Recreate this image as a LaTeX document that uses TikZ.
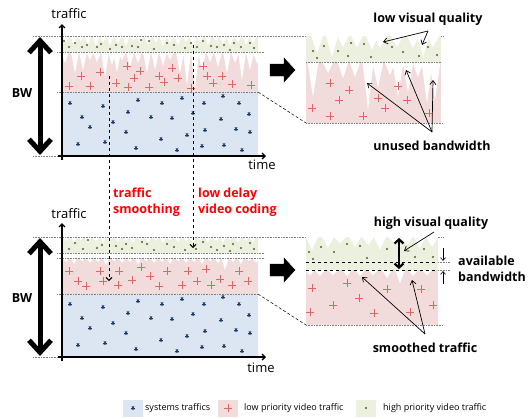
\documentclass[tikz,border=0pt]{standalone}
\usepackage{fontspec}
\setmainfont{Open Sans}
\usetikzlibrary{arrows.meta}
\definecolor{gfill}{HTML}{EBF1DE}
\definecolor{rfill}{HTML}{F2DCDB}
\definecolor{bfill}{HTML}{DCE6F2}
\definecolor{gdot}{HTML}{4F6228}
\definecolor{rplus}{HTML}{E06666}
\definecolor{bstar}{HTML}{1F3864}
\definecolor{redtxt}{HTML}{FF0000}
\newcommand\mkspikes[3]{\foreach \sx/\sd in {#3}{\fill[white] (\sx-#2,#1) -- (\sx,#1+\sd) -- (\sx+#2,#1) -- cycle;}}
\tikzset{
  guide/.style={gray, densely dotted, line width=0.6pt},
  blackdash/.style={black, dashed, line width=0.7pt},
  starm/.pic={\foreach \a in {0,60,120}{\draw[bstar,line width=0.8pt] (\a:2.1) -- (\a+180:2.1);}},
  plusm/.pic={\draw[rplus,line width=0.7pt] (-4,0) -- (4,0) (0,-4) -- (0,4);},
  dotm/.pic={\fill[gdot] (0,0) circle (1.2pt);},
  axis/.style={line width=1.4pt, -{Straight Barb[length=3pt,width=6pt]}},
  bwarrow/.style={line width=5pt, {Straight Barb[length=12pt,width=22pt]}-{Straight Barb[length=12pt,width=22pt]}},
  note/.style={line width=0.7pt, -{Straight Barb[length=4pt,width=6pt]}},
  blockarrow/.style={fill=black},
  lbl/.style={font=\fontsize{12.5}{14}\selectfont\bfseries, inner sep=0pt},
  axlbl/.style={font=\fontsize{13}{15}\selectfont, inner sep=0pt},
  redlbl/.style={font=\fontsize{12.5}{16}\selectfont\bfseries, text=redtxt, inner sep=0pt, align=left, anchor=north west},
  leg/.style={font=\fontsize{9}{10}\selectfont, inner sep=0pt, anchor=west},
  legbox/.style={minimum width=20pt, minimum height=17pt, inner sep=0pt}
}
\begin{document}
\begin{tikzpicture}[x=1pt,y=-1pt]
\useasboundingbox (0,0) rectangle (532,418);
\fill[white] (0,0) rectangle (532,418);

% ================= TOP LEFT PANEL =================
\fill[gfill] (62,36) rectangle (258,52);
\fill[rfill] (62,52) rectangle (258,92);
\fill[bfill] (62,92) rectangle (258,156);
\begin{scope}
\clip (62,36) rectangle (258,92);
\mkspikes{36}{4}{66/6,74/9,81/5,88/8,96/10,103/6,110/9,118/7,126/10,133/5,140/8,148/9,156/6,163/10,170/7,178/9,186/6,193/10,200/7,208/9,216/5,223/8,230/10,238/6,246/9,253/7}
\mkspikes{52}{4}{65/11,75/21,83/18,90/8,97/10,105/25,112/13,117/20,122/8,130/15,138/11,147/21,155/18,163/14,170/8,180/21,187/33,195/38,202/18,210/10,218/15,227/21,235/11,242/28,250/18,257/12}
\end{scope}
\foreach \x/\y in {70/103,103/106,138/100,162/103,182/98,204/103,223/96,239/103,82/117,128/112,151/117,172/118,193/113,221/119,249/114,90/127,113/122,126/132,187/135,205/130,236/129,250/132,78/144,105/142,136/148,161/139,177/150,202/146,224/145,242/150}
  {\pic at (\x,\y) {starm};}
\foreach \x/\y in {69/86,81/76,90/86,100/72,116/83,127/66,128/87,134/78,140/71,149/87,159/76,164/82,172/68,178/78,191/88,203/66,207/76,213/83,222/76,232/84,251/85}
  {\pic at (\x,\y) {plusm};}
\foreach \x/\y in {64/41,69/47,75/43,82/47,87/45,97/47,101/44,110/49,116/45,122/47,132/46,138/47,141/40,149/41,154/49,167/43,174/45,185/48,191/43,197/47,203/41,211/46,217/47,224/45,230/50,234/43,241/47,250/43,254/48}
  {\pic at (\x,\y) {dotm};}

\draw[guide] (33,36) -- (443,36);
\draw[guide] (57,52) -- (265,52);
\draw[guide] (57,92) -- (258,92);
\draw[guide] (33,156) -- (62,156);

\coordinate (ta0) at (62,160);
\coordinate (ta1) at (62,24);
\coordinate (tb0) at (58,156);
\coordinate (tb1) at (266,156);
\draw[axis] (ta0) -- (ta1);
\draw[axis] (tb0) -- (tb1);
\node[axlbl] (ttraffic) at (69,14) {traffic};
\node[axlbl] (ttime) at (262,165) {time};

\coordinate (bwt0) at (40,37);
\coordinate (bwt1) at (40,155);
\draw[bwarrow] (bwt0) -- (bwt1);
\node[lbl] (tbw) at (22,93) {BW};

% ================= TOP RIGHT PANEL =================
\fill[gfill] (306,36) rectangle (441,62);
\fill[rfill] (306,62) rectangle (441,123);
\begin{scope}
\clip (306,36) rectangle (441,123);
\mkspikes{36}{6}{317/17,332/21,343/11,357/11,372/14,380/12,397/11,413/12,423/21,433/11}
\mkspikes{62}{5.5}{313/35,328/11,343/16,355/15,368/48,378/26,390/13,398/35,408/30,418/15,427/41,435/38}
\end{scope}
\foreach \x/\y in {313/51,317/58,324/46,338/51,348/56,351/43,364/44,371/57,392/47,403/52,419/56,428/47,437/55}
  {\pic at (\x,\y) {dotm};}
\foreach \x/\y in {312/108,330/83,330/116,339/100,349/90,363/116,378/98,385/108,398/86,407/100,429/113}
  {\pic at (\x,\y) {plusm};}
\draw[guide] (306,62) -- (441,62);
\draw[guide] (306,123) -- (443,123);
\coordinate (tz0) at (258,92);
\coordinate (tz1) at (306,123);
\draw[black, densely dashed, line width=0.5pt] (tz0) -- (tz1);

\draw[blockarrow] (270,64) -- (284,64) -- (284,58) -- (295,70) -- (284,82) -- (284,76) -- (270,76) -- cycle;

\node[lbl] (lvq) at (428,19) {low visual quality};
\coordinate (lvqo) at (428,31);
\coordinate (lvq1) at (383,42);
\coordinate (lvq2) at (422,45);
\draw[note] (lvqo) -- (lvq1);
\draw[note] (lvqo) -- (lvq2);

\node[lbl] (ubw) at (432,146) {unused bandwidth};
\coordinate (ubwo) at (432,132);
\coordinate (ubw1) at (367,83);
\coordinate (ubw2) at (406,70);
\coordinate (ubw3) at (433,80);
\draw[note] (ubwo) -- (ubw1);
\draw[note] (ubwo) -- (ubw2);
\draw[note] (ubwo) -- (ubw3);

% ================= BOTTOM LEFT PANEL =================
\fill[gfill] (62,237) rectangle (258,253);
\fill[rfill] (62,258) rectangle (258,294);
\fill[bfill] (62,294) rectangle (258,357);
\begin{scope}
\clip (62,237) rectangle (258,294);
\mkspikes{237}{3.5}{66/4,74/5,81/3,88/5,96/4,103/6,110/3,118/5,126/4,133/6,140/3,148/5,156/4,163/6,170/3,178/5,186/4,193/6,200/3,208/5,216/4,223/6,230/3,238/5,246/4,253/5}
\mkspikes{258}{3.5}{66/4,74/6,82/3,90/5,98/4,106/7,114/3,122/5,130/4,138/6,146/3,154/5,162/4,170/6,178/3,186/5,194/4,202/6,210/3,218/5,225/12,233/4,241/6,249/3,256/5}
\end{scope}
\foreach \x/\y in {70/103,103/106,138/100,162/103,182/98,204/103,223/96,239/103,82/117,128/112,151/117,172/118,193/113,221/119,249/114,90/127,113/122,126/132,187/135,205/130,236/129,250/132,78/144,105/142,136/148,161/139,177/150,202/146,224/145,242/150}
  {\pic at (\x,\y+201) {starm};}
\foreach \x/\y in {69/271,100/271,119/271,141/267,167/271,188/271,206/269,239/271,78/281,86/286,103/281,118/285,132/280,150/276,159/286,182/285,197/281,211/285,220/279,232/285,248/281}
  {\pic at (\x,\y) {plusm};}
\foreach \x/\y in {62/239,69/249,75/243,83/249,88/240,97/248,102/245,116/246,122/249,126/244,132/248,142/242,147/244,154/250,167/244,174/247,185/250,196/249,203/242,211/247,217/250,224/246,230/251,233/244,241/248,250/243,254/249}
  {\pic at (\x,\y) {dotm};}

\draw[guide] (33,237) -- (443,237);
\draw[guide] (57,253) -- (265,253);
\draw[guide] (57,258) -- (265,258);
\draw[guide] (57,294) -- (258,294);
\draw[guide] (33,357) -- (62,357);

\coordinate (ba0) at (62,361);
\coordinate (ba1) at (62,223);
\coordinate (bb0) at (58,357);
\coordinate (bb1) at (266,357);
\draw[axis] (ba0) -- (ba1);
\draw[axis] (bb0) -- (bb1);
\node[axlbl] (btraffic) at (69,214) {traffic};
\node[axlbl] (btime) at (261,368) {time};

\coordinate (bwb0) at (40,238);
\coordinate (bwb1) at (40,356);
\draw[bwarrow] (bwb0) -- (bwb1);
\node[lbl] (bbw) at (22,298) {BW};

% ================= BOTTOM RIGHT PANEL =================
\fill[gfill] (306,237) rectangle (438,270);
\fill[rfill] (306,270) rectangle (438,325);
\begin{scope}
\clip (306,237) rectangle (438,325);
\mkspikes{237}{6}{312/13,328/11,340/6,355/10,368/8,380/13,394/6,407/8,420/11,432/10}
\mkspikes{270}{5}{310/5,320/6,333/5,347/6,360/6,373/5,387/8,400/13,413/6,427/5}
\end{scope}
\foreach \x/\y in {309/252,321/247,313/259,334/252,347/244,360/246,367/258,387/249,415/257,424/249,433/257}
  {\pic at (\x,\y) {dotm};}
\foreach \x/\y in {312/288,310/312,333/305,347/283,359/298,374/313,387/289,410/312,421/289,433/305}
  {\pic at (\x,\y) {plusm};}
\draw[blackdash] (306,262) -- (438,262);
\draw[blackdash] (306,270) -- (438,270);
\draw[guide] (438,262) -- (450,262);
\draw[guide] (438,270) -- (450,270);
\draw[guide] (306,325) -- (443,325);
\coordinate (bz0) at (258,294);
\coordinate (bz1) at (306,325);
\draw[black, densely dashed, line width=0.5pt] (bz0) -- (bz1);

\draw[blockarrow] (270,264) -- (284,264) -- (284,258) -- (295,270) -- (284,282) -- (284,276) -- (270,276) -- cycle;

\coordinate (hq0) at (399,238);
\coordinate (hq1) at (399,269);
\draw[line width=2.2pt, {Straight Barb[length=4pt,width=9pt]}-{Straight Barb[length=4pt,width=9pt]}] (hq0) -- (hq1);

\node[lbl] (hvq) at (431,223) {high visual quality};
\coordinate (hvqo) at (434,232);
\coordinate (hvq1) at (404,251);
\draw[note] (hvqo) -- (hvq1);

\coordinate (av0) at (443,248);
\coordinate (av1) at (443,261);
\coordinate (av2) at (443,284);
\coordinate (av3) at (443,271);
\draw[line width=0.6pt, -{Straight Barb[length=3pt,width=5pt]}] (av0) -- (av1);
\draw[line width=0.6pt, -{Straight Barb[length=3pt,width=5pt]}] (av2) -- (av3);
\node[lbl, anchor=west] (avail) at (458,261) {available};
\node[lbl, anchor=west] (availb) at (458,277) {bandwidth};

\node[lbl] (smt) at (425,348) {smoothed traffic};
\coordinate (smto) at (425,334);
\coordinate (smt1) at (362,277);
\coordinate (smt2) at (412,280);
\draw[note] (smto) -- (smt1);
\draw[note] (smto) -- (smt2);

% ================= VERTICAL DASHED ARROWS =================
\coordinate (v10) at (109,76);
\coordinate (v11) at (109,281);
\coordinate (v20) at (193,45);
\coordinate (v21) at (193,248);
\draw[black, dashed, line width=0.9pt, -{Straight Barb[length=3pt,width=6pt]}] (v10) -- (v11);
\draw[black, dashed, line width=0.9pt, -{Straight Barb[length=3pt,width=6pt]}] (v20) -- (v21);
\node[redlbl] (tsm) at (113,188) {traffic\\smoothing};
\node[redlbl] (ldv) at (198,188) {low delay\\video coding};

% ================= LEGEND =================
\node[legbox, fill=bfill] (lb1) at (133,408) {};
\pic at (lb1.center) {starm};
\node[leg] (lt1) at (145,408) {systems traffics};
\node[legbox, fill=rfill] (lb2) at (228,408) {};
\pic at (lb2.center) {plusm};
\node[leg] (lt2) at (244,408) {low priority video traffic};
\node[legbox, fill=gfill] (lb3) at (366,408) {};
\pic at (lb3.center) {dotm};
\node[leg] (lt3) at (383,408) {high priority video traffic};
\end{tikzpicture}
\end{document}
